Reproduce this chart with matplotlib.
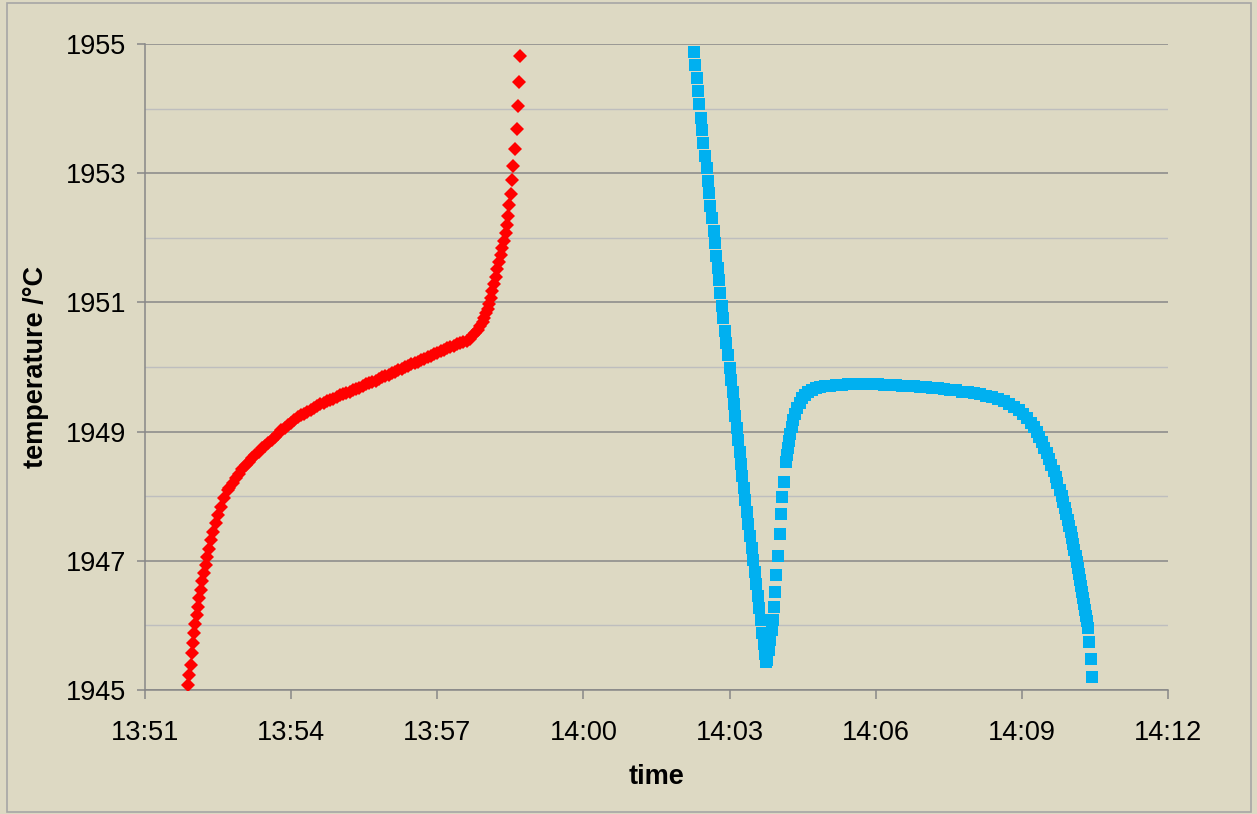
import matplotlib
matplotlib.use("Agg")
import matplotlib.pyplot as plt
from matplotlib.patches import Rectangle

# Heating run: seconds after 13:51:00 and furnace temperature (°C)
red_sec = [
    53.3, 54.6, 56.3, 57.9, 58.8, 60.4, 62.0, 63.7, 65.3, 66.9, 69.0, 70.6,
    72.7, 74.8, 76.7, 79.2, 81.7, 84.1, 87.1, 90.3, 93.6, 97.7, 102.6,
    104, 108, 112, 116, 120, 124, 128, 132, 136, 140, 144, 148, 152, 156,
    160, 164, 168, 172, 176, 180, 184, 188, 192, 196, 200, 204, 208, 212,
    216, 220, 224, 228, 232, 236, 240, 244, 248, 252, 256, 260, 264, 268,
    272, 276, 280, 284, 288, 292, 296, 300, 304, 308, 312, 316, 320, 324,
    328, 332, 336, 340, 344, 348, 352, 356, 360, 364, 368, 372, 376, 380,
    384, 388, 392, 396, 400, 404, 407, 410, 413, 416, 418, 420, 422, 424,
    426, 428, 430, 432, 434, 436, 438, 440, 442,
    444.3, 445.5, 447.1, 448.7, 450.4, 452.4, 453.6, 455.7, 457.8, 459.4,
    460.3, 461.9,
]
red_temp = [
    1945.07, 1945.23, 1945.39, 1945.57, 1945.72, 1945.88, 1946.02, 1946.16,
    1946.29, 1946.42, 1946.55, 1946.68, 1946.81, 1946.93, 1947.06, 1947.19,
    1947.32, 1947.45, 1947.58, 1947.71, 1947.84, 1947.97, 1948.10,
    1948.13, 1948.21, 1948.28, 1948.35, 1948.42, 1948.48, 1948.53, 1948.59,
    1948.64, 1948.69, 1948.74, 1948.78, 1948.83, 1948.87, 1948.92, 1948.97,
    1949.02, 1949.06, 1949.10, 1949.14, 1949.18, 1949.22, 1949.25, 1949.28,
    1949.31, 1949.34, 1949.37, 1949.39, 1949.42, 1949.44, 1949.47, 1949.49,
    1949.51, 1949.53, 1949.56, 1949.58, 1949.60, 1949.62, 1949.64, 1949.66,
    1949.68, 1949.70, 1949.73, 1949.75, 1949.77, 1949.79, 1949.82, 1949.84,
    1949.86, 1949.88, 1949.90, 1949.93, 1949.95, 1949.97, 1950.00, 1950.02,
    1950.04, 1950.06, 1950.08, 1950.11, 1950.13, 1950.15, 1950.17, 1950.20,
    1950.22, 1950.24, 1950.27, 1950.29, 1950.31, 1950.33, 1950.35, 1950.37,
    1950.39, 1950.41, 1950.44, 1950.49, 1950.53, 1950.58, 1950.63, 1950.70,
    1950.76, 1950.83, 1950.90, 1950.97,
    1951.07, 1951.18, 1951.29, 1951.40, 1951.51, 1951.62, 1951.73, 1951.84,
    1951.95,
    1952.07, 1952.20, 1952.33, 1952.50, 1952.68, 1952.89, 1953.11, 1953.37,
    1953.69, 1954.04, 1954.41, 1954.82,
]

# Cooling run: seconds after 13:51:00 and furnace temperature (°C)
blue_sec = [
    676.2, 677.4, 679.9, 680.8, 682.7, 684.5, 686.1, 687.7, 689.6, 691.8,
    693.8, 694.7, 696.3, 698.8, 700.5, 702.1, 703.7, 705.4, 707.0, 708.6,
    710.3, 712.3, 714.4, 716.2, 718.1, 720.0, 721.9, 723.7, 725.4, 727.3,
    729.2, 730.8, 732.4, 734.0, 735.6, 737.2, 739.0, 741.1, 743.1, 745.1,
    747.3, 749.2, 751.1, 753.0, 754.9, 756.8, 758.6, 760.5, 762.2, 763.7,
    764.9,
    766.7, 768.6, 770.4, 771.9, 773.1, 774.4, 776.3, 777.6, 780.0, 782.1,
    783.7, 784.9, 787.0, 789.5,
    790.8, 792.1, 793.3, 794.8, 796.5, 798.5, 800.6, 803.1, 806.2, 809.2,
    812.9, 817.2, 821.5, 826.4, 831.4, 837.5, 843.7, 851.1, 858.5, 865.9,
    873.3, 880.7, 888.1, 895.4, 902.8, 910.2, 917.6, 925.0, 932.4, 939.8,
    947.2, 954.6, 962.0, 969.4, 976.7, 984.1, 991.5, 998.9, 1006.3, 1013.7,
    1021.1, 1028.5, 1035.9, 1043.3, 1050.6, 1058.0, 1064.2, 1070.3, 1076.5,
    1081.4, 1086.4, 1090.7, 1094.4, 1098.1, 1101.2, 1104.2, 1107.3, 1110.4,
    1113.5, 1116.5, 1119.0, 1121.5, 1123.9, 1126.4, 1128.9, 1130.7, 1132.6,
    1134.4, 1136.3, 1138.1, 1140.0, 1141.6, 1143.0, 1144.6, 1146.1, 1147.6,
    1148.9, 1150.4, 1151.6, 1152.9, 1154.1, 1155.3, 1156.6, 1157.8, 1159.0,
    1160.2, 1161.9, 1162.7, 1164.8, 1166.4,
]
blue_temp = [
    1954.87, 1954.67, 1954.47, 1954.27, 1954.07, 1953.86, 1953.67, 1953.46,
    1953.27, 1953.08, 1952.88, 1952.69, 1952.49, 1952.30, 1952.11, 1951.92,
    1951.72, 1951.53, 1951.34, 1951.14, 1950.95, 1950.76, 1950.56, 1950.37,
    1950.19, 1949.98, 1949.80, 1949.61, 1949.43, 1949.24, 1949.06, 1948.87,
    1948.68, 1948.50, 1948.31, 1948.13, 1947.94, 1947.76, 1947.57, 1947.38,
    1947.20, 1947.01, 1946.83, 1946.64, 1946.46, 1946.27, 1946.08, 1945.89,
    1945.71, 1945.56, 1945.43,
    1945.46, 1945.62, 1945.77, 1945.93, 1946.08, 1946.29, 1946.52, 1946.78,
    1947.07, 1947.41, 1947.72, 1947.99, 1948.22, 1948.53,
    1948.64, 1948.75, 1948.85, 1948.96, 1949.07, 1949.18, 1949.27, 1949.37,
    1949.45, 1949.52, 1949.57, 1949.62, 1949.65, 1949.67, 1949.69, 1949.70,
    1949.71, 1949.72, 1949.72, 1949.73, 1949.73, 1949.73, 1949.73, 1949.73,
    1949.73, 1949.72, 1949.72, 1949.72, 1949.71, 1949.71, 1949.70, 1949.69,
    1949.69, 1949.68, 1949.67, 1949.66, 1949.65, 1949.64, 1949.62, 1949.61,
    1949.59, 1949.58, 1949.55, 1949.53, 1949.50, 1949.47, 1949.43, 1949.38,
    1949.33, 1949.27, 1949.21, 1949.14, 1949.07, 1948.99, 1948.92, 1948.84,
    1948.75, 1948.67, 1948.58, 1948.48, 1948.39, 1948.30, 1948.20, 1948.10,
    1948.00, 1947.91, 1947.82, 1947.72, 1947.63, 1947.54, 1947.45, 1947.35,
    1947.26, 1947.17, 1947.08, 1946.98, 1946.89, 1946.80, 1946.70, 1946.61,
    1946.52, 1946.42, 1946.33, 1946.24, 1946.15, 1946.07, 1945.96, 1945.74,
    1945.48, 1945.20,
]

start_clock = "13:51"
x_tick_labels = ["13:51", "13:54", "13:57", "14:00", "14:03", "14:06", "14:09", "14:12"]
y_major = [1945, 1947, 1949, 1951, 1953, 1955]
y_minor = [1946, 1948, 1950, 1952, 1954]


def clock_to_min(text):
    h, m = text.split(":")
    return int(h) * 60 + int(m)


t0 = clock_to_min(start_clock)
red_x = [t0 + s / 60.0 for s in red_sec]
blue_x = [t0 + s / 60.0 for s in blue_sec]
x_ticks = [clock_to_min(t) for t in x_tick_labels]

BG = "#DDD9C3"
MAJOR = "#888888"
MINOR = "#BEBEBE"

plt.rcParams["font.family"] = ["Liberation Sans", "DejaVu Sans"]

W, H = 1257, 814
fig = plt.figure(figsize=(W / 100, H / 100), dpi=100, facecolor=BG)
ax = fig.add_axes([145 / W, (H - 690) / H, 1023 / W, 646 / H])
ax.set_facecolor(BG)

# outer chart border
fig.patches.append(Rectangle((7 / W, 2 / H), (1251 - 7) / W, (811 - 2) / H,
                             transform=fig.transFigure, fill=False,
                             edgecolor="#A6A6A6", linewidth=1.2))

ax.plot(red_x, red_temp, linestyle="none", marker="D", markersize=7.4,
        color="#FF0000", markeredgewidth=0, zorder=3)
ax.plot(blue_x, blue_temp, linestyle="none", marker="s", markersize=9.0,
        color="#00B0F0", markeredgewidth=0, zorder=3)

ax.set_xlim(x_ticks[0], x_ticks[-1])
ax.set_ylim(y_major[0], y_major[-1])
ax.set_xticks(x_ticks)
ax.set_xticklabels(x_tick_labels)
ax.set_yticks(y_major)
ax.set_yticklabels([str(v) for v in y_major])
ax.set_yticks(y_minor, minor=True)

ax.grid(axis="y", which="major", color=MAJOR, linewidth=1.1, zorder=1)
ax.grid(axis="y", which="minor", color=MINOR, linewidth=1.0, zorder=1)
ax.set_axisbelow(True)

for side in ("top", "right"):
    ax.spines[side].set_visible(False)
for side in ("left", "bottom"):
    ax.spines[side].set_color(MAJOR)
    ax.spines[side].set_linewidth(1.1)

ax.tick_params(axis="y", which="major", direction="out", length=5.5, width=1.1,
               color=MAJOR, pad=8, labelsize=19.5, labelcolor="#000000")
ax.tick_params(axis="y", which="minor", length=0)
ax.tick_params(axis="x", which="major", direction="out", length=6.5, width=1.1,
               color=MAJOR, pad=15, labelsize=19.5, labelcolor="#000000")

ax.set_xlabel("time", fontsize=19.5, fontweight="bold")
ax.xaxis.set_label_coords(0.5, -(777 - 690) / 646)
ax.xaxis.label.set_verticalalignment("center")
ax.set_ylabel("temperature /°C", fontsize=19.5, fontweight="bold")
ax.yaxis.set_label_coords(-(145 - 36) / 1023, 0.5)
ax.yaxis.label.set_verticalalignment("center")

fig.savefig("out.png", dpi=100, facecolor=BG)
